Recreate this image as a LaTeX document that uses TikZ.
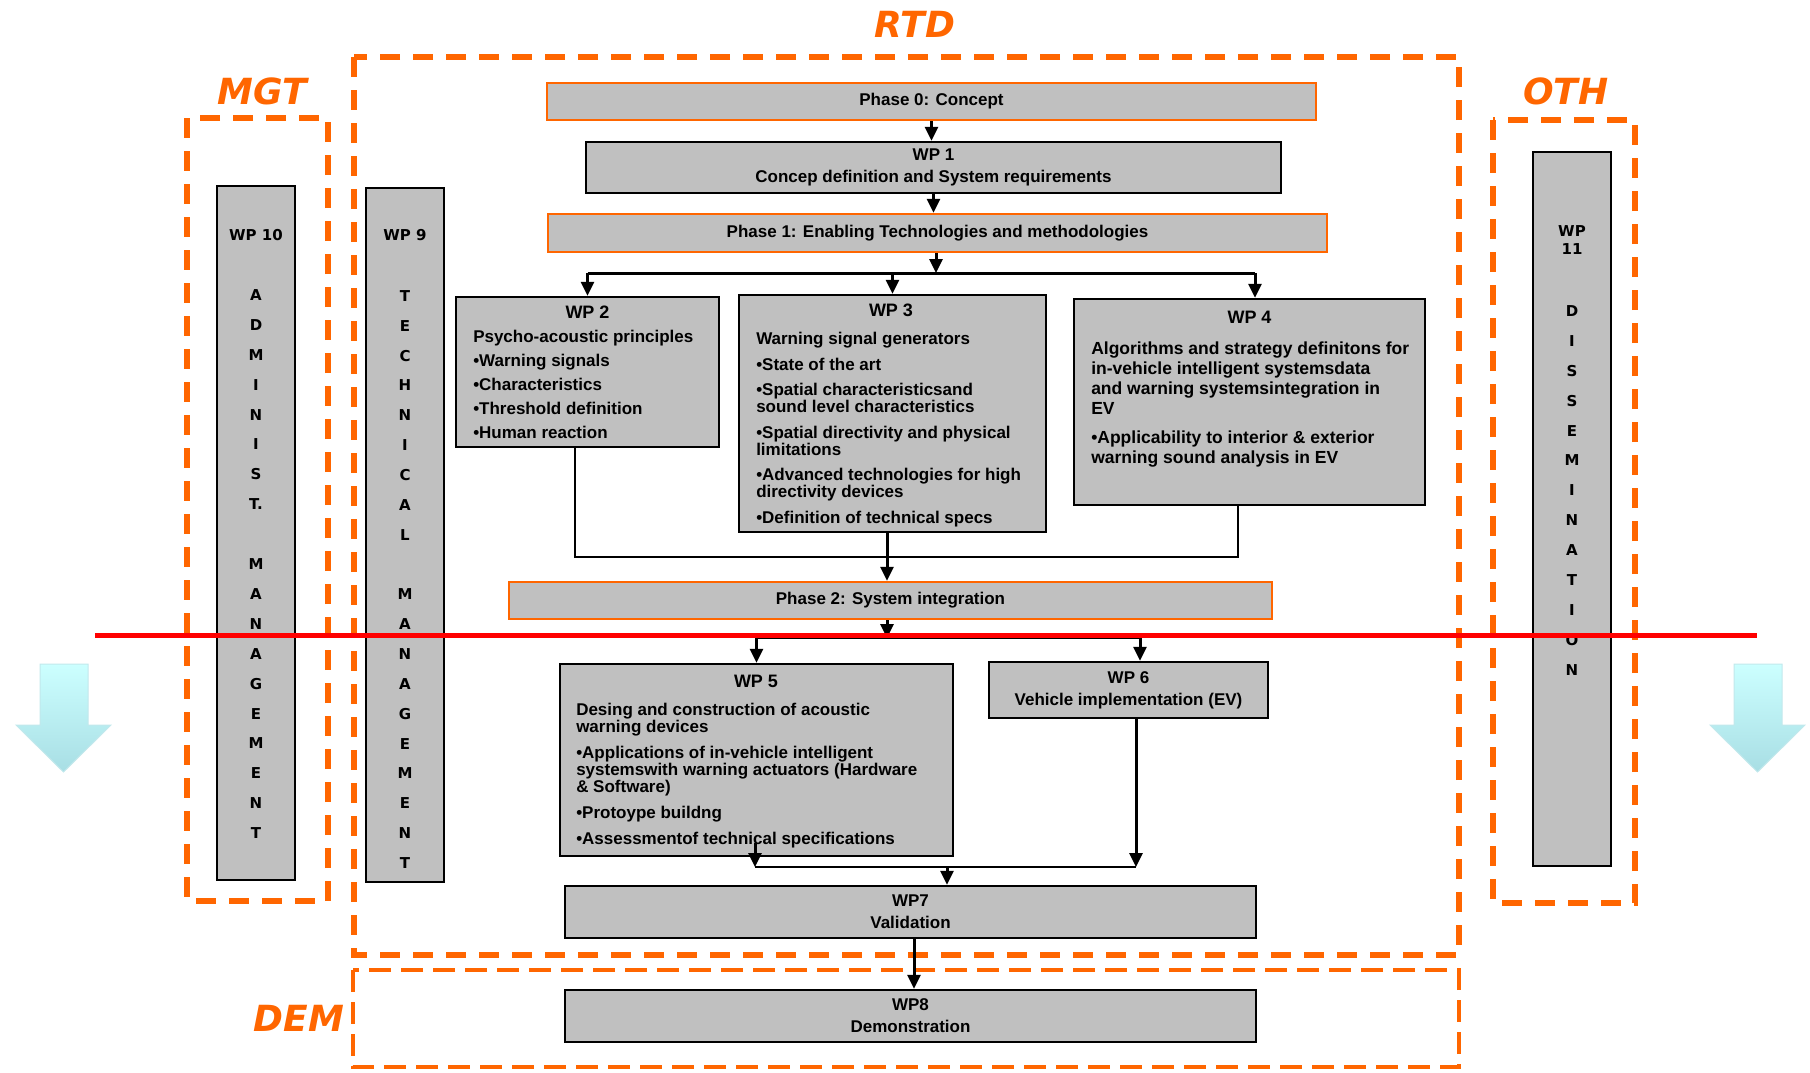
\documentclass[tikz,border=0pt]{standalone}
\usepackage{fontspec}
\setmainfont{Liberation Sans}
\newfontfamily\vfont{DejaVu Sans}
\usetikzlibrary{arrows.meta,calc}

\definecolor{boxgray}{RGB}{192,192,192}
\definecolor{wporange}{RGB}{255,102,0}
\definecolor{arrtop}{RGB}{204,255,255}
\definecolor{arrbot}{RGB}{168,222,228}

\begin{document}
\begin{tikzpicture}[x=1pt, y=-1pt, line width=2.5pt,
  wpbox/.style={draw=black, fill=boxgray, line width=2.5pt, inner sep=0pt, align=center,
    font=\bfseries\fontsize{17}{22}\selectfont},
  phasebox/.style={draw=wporange, fill=boxgray, line width=2.5pt, inner sep=0pt,
    font=\bfseries\fontsize{17}{22}\selectfont},
  head/.style={font=\bfseries\fontsize{18}{18}\selectfont, inner sep=0pt},
  body/.style={font=\bfseries\fontsize{17}{17}\selectfont, align=left, inner sep=0pt, anchor=north west},
  vlet/.style={font=\vfont\bfseries\fontsize{15}{18}\selectfont, inner sep=0pt, align=center},
  group/.style={draw=wporange, line width=6pt, dash pattern=on 20pt off 13pt},
  grouplabel/.style={text=wporange, font=\vfont\bfseries\itshape\fontsize{36}{36}\selectfont, inner sep=0pt},
  arr/.style={-{Triangle[length=14pt,width=13pt]}, line width=3pt},
  link/.style={line width=2pt},
  downarrow/.style={top color=arrtop, bottom color=arrbot, draw=arrbot!70!white, line width=1pt}]
\useasboundingbox (0,0) rectangle (1810,1072);

% groups
\draw[group] (354,57) rectangle (1459,955);
\draw[group] (187,118) rectangle (328,901);
\draw[group] (1493,120) rectangle (1635,903);
\draw[draw=wporange, line width=4.5pt, dash pattern=on 22pt off 10pt] (353,970) rectangle (1459,1067);
\node[grouplabel] (rtd) at (915,24) {RTD};
\node[grouplabel] (mgt) at (262,91) {MGT};
\node[grouplabel] (oth) at (1566,91) {OTH};
\node[grouplabel] (dem) at (299,1018) {DEM};

% side arrows
\foreach \dx in {0,1694} {
\begin{scope}[xshift=\dx pt]
\path[downarrow] (40,664) -- (88,664) -- (88,725) -- (111,725) -- (63.5,772) -- (16,725) -- (40,725) -- cycle;
\end{scope}
}

% phases
\node[phasebox, minimum width=769pt, minimum height=37pt] (phase0) at (931.5,101.5) {Phase 0: Concept};
\node[phasebox, minimum width=779pt, minimum height=38pt] (phase1) at (937.5,233) {Phase 1: Enabling Technologies and methodologies};
\node[phasebox, minimum width=763pt, minimum height=37pt] (phase2) at (890.5,600.5) {Phase 2: System integration};

% work packages
\node[wpbox, minimum width=695pt, minimum height=51pt] (wp1) at (933.5,167.5) {WP 1\\Concep definition and System requirements};

\node[wpbox, minimum width=263pt, minimum height=150pt] (wp2) at (587.5,372) {};
\node[head] (wp2h) at (587.5,312) {WP 2};
\node[body] (wp2t) at (472,329) {Psycho-acoustic principles\\[7pt]
  •Warning signals\\[7pt] •Characteristics\\[7pt] •Threshold definition\\[7pt] •Human reaction};

\node[wpbox, minimum width=307pt, minimum height=237pt] (wp3) at (892.5,413.5) {};
\node[head] (wp3h) at (891,310) {WP 3};
\node[body] (wp3t) at (755,331) {Warning signal generators\\[8.5pt]
  •State of the art\\[8.5pt]
  •Spatial characteristicsand\\ sound level characteristics\\[8.5pt]
  •Spatial directivity and physical\\ limitations\\[8.5pt]
  •Advanced technologies for high\\ directivity devices\\[8.5pt]
  •Definition of technical specs};

\node[wpbox, minimum width=351pt, minimum height=206pt] (wp4) at (1249.5,402) {};
\node[head] (wp4h) at (1249.5,317) {WP 4};
\node[body, font=\bfseries\fontsize{17.5}{19.7}\selectfont] (wp4t) at (1090,341) {Algorithms and strategy definitons for\\
  in-vehicle intelligent systemsdata\\ and warning systemsintegration in\\ EV\\[10pt]
  •Applicability to interior \& exterior\\ warning sound analysis in EV};

\node[wpbox, minimum width=393pt, minimum height=192pt] (wp5) at (756.5,760) {};
\node[head] (wp5h) at (756,681) {WP 5};
\node[body] (wp5t) at (575,702) {Desing and construction of acoustic\\ warning devices\\[9pt]
  •Applications of in-vehicle intelligent\\ systemswith warning actuators (Hardware\\ \& Software)\\[9pt]
  •Protoype buildng\\[9pt]
  •Assessmentof technical specifications};

\node[wpbox, minimum width=279pt, minimum height=56pt] (wp6) at (1128.5,690) {WP 6\\Vehicle implementation (EV)};
\node[wpbox, minimum width=691pt, minimum height=52pt] (wp7) at (910.5,912) {WP7\\Validation};
\node[wpbox, minimum width=691pt, minimum height=52pt] (wp8) at (910.5,1016) {WP8\\Demonstration};

% vertical work packages
\node[wpbox, minimum width=78pt, minimum height=694pt] (wp10) at (256,533) {};
\node[vlet] (wp10h) at (256,235) {WP 10};
\foreach \c [count=\i from 0] in {A,D,M,I,N,I,S,T.,,M,A,N,A,G,E,M,E,N,T}
  \node[vlet] (wp10l\i) at (256,295+29.9*\i) {\c};

\node[wpbox, minimum width=78pt, minimum height=694pt] (wp9) at (405,535) {};
\node[vlet] (wp9h) at (405,235) {WP 9};
\foreach \c [count=\i from 0] in {T,E,C,H,N,I,C,A,L,,M,A,N,A,G,E,M,E,N,T}
  \node[vlet] (wp9l\i) at (405,296+29.84*\i) {\c};

\node[wpbox, minimum width=78pt, minimum height=714pt] (wp11) at (1572,509) {};
\node[vlet] (wp11h) at (1572,240) {WP\\11};
\foreach \c [count=\i from 0] in {D,I,S,S,E,M,I,N,A,T,I,O,N}
  \node[vlet] (wp11l\i) at (1572,311+29.9*\i) {\c};

% connectors
\coordinate (split1) at (936,273);
\coordinate (to4) at (1255,273);
\coordinate (out2) at (575,447);
\coordinate (join1) at (887,557);
\coordinate (split2) at (887,638);
\coordinate (to6) at (1140,638);
\coordinate (out4) at (1238,505);
\coordinate (out5) at (755,843);
\coordinate (out6) at (1136,718);
\coordinate (join2) at (947,867);
\coordinate (out7) at (914,938);

\draw[arr] (phase0.south) -- (phase0.south |- wp1.north);
\draw[arr] (wp1.south) -- (wp1.south |- phase1.north);
\draw[arr] (phase1.south -| split1) -- (split1);
\draw[line width=3pt] (wp2.north |- split1) -- (to4);
\foreach \n in {wp2,wp3}
  \draw[arr] (\n.north |- split1) -- (\n.north);
\draw[arr] (to4) -- (to4 |- wp4.north);

\draw[link] (out2) -- (out2 |- join1) -- (out4 |- join1) -- (out4);
\draw[arr] (wp3.south -| join1) -- (phase2.north -| join1);
\draw[arr] (phase2.south -| split2) -- (split2);
\draw[line width=2.5pt] (wp5.north |- split2) -- (to6);
\draw[arr] (wp5.north |- split2) -- (wp5.north);
\draw[arr] (to6) -- (to6 |- wp6.north);

\draw[arr] (out5) -- (out5 |- join2);
\draw[arr] (out6) -- (out6 |- join2);
\draw[line width=2.5pt] (out5 |- join2) -- (out6 |- join2);
\draw[arr] (join2) -- (join2 |- wp7.north);
\draw[arr] (out7) -- (out7 |- wp8.north);

% phase 2 limit
\draw[red, line width=5pt] (95,635) -- (1757,635);
\end{tikzpicture}
\end{document}
